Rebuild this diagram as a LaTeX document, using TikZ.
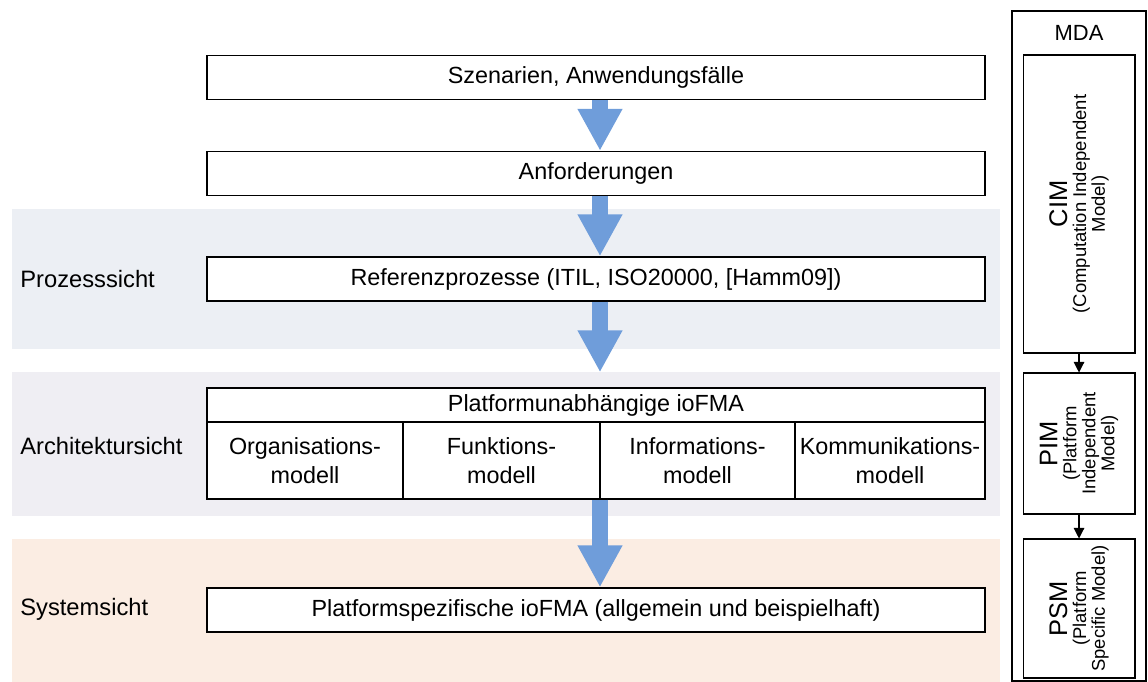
\documentclass[tikz,border=0pt]{standalone}
\usepackage{fontspec}
\setmainfont{Liberation Sans}
\usetikzlibrary{arrows.meta}
\definecolor{arrowblue}{RGB}{111,157,218}
\definecolor{prozessbg}{RGB}{236,239,244}
\definecolor{archbg}{RGB}{239,238,243}
\definecolor{systembg}{RGB}{251,237,227}
\tikzset{
	box/.style={draw, line width=0.8pt, fill=white, inner sep=0pt, minimum width=15.56cm, minimum height=0.88cm, font=\fontsize{13.3}{15.5}\selectfont},
	cell/.style={draw, line width=0.8pt, fill=white, inner sep=0pt, minimum height=1.54cm, align=center, font=\fontsize{13.3}{16.5}\selectfont},
	bigarrow/.style={line width=0.32cm, arrowblue, -{Triangle[width=0.84cm,length=0.84cm]}, transform canvas={xshift=0.08cm}},
	mdabox/.style={draw, line width=0.6pt, fill=white, minimum width=2.24cm, inner sep=0pt},
	mdatext/.style={rotate=90, align=center, font=\fontsize{10.5}{10.8}\selectfont},
	sicht/.style={anchor=west, inner sep=0pt, font=\fontsize{13.5}{15.5}\selectfont}
}

\begin{document}
\begin{tikzpicture}[x=0.02cm, y=-0.02cm]
			%%%%% START %%%%%
			\useasboundingbox (0, 0) rectangle (1148, 682);
			
			\fill[prozessbg] (12, 209) rectangle (1000, 349);
			\fill[archbg] (12, 372) rectangle (1000, 516);
			\fill[systembg] (12, 539) rectangle (1000, 682);
			
			\node[sicht] (prozess) at (20, 279) {Prozesssicht};
			\node[sicht] (arch) at (20, 446) {Architektursicht};
			\node[sicht] (system) at (20, 609) {Systemsicht};
			
			\node[box] (scen) at (596, 77.5) {Szenarien, Anwendungsfälle};
			\node[box] (anf) at (596, 173.5) {Anforderungen};
			\node[box] (ref) at (596, 279) {Referenzprozesse (ITIL, ISO20000, [Hamm09])};
			
			\node[box, minimum height=0.68cm] (plat) at (596, 405) {Platformunabhängige ioFMA};
			\node[cell, minimum width=3.92cm] (org) at (305, 460.5) {Organisations-\\modell};
			\node[cell, minimum width=3.94cm] (funk) at (501.5, 460.5) {Funktions-\\modell};
			\node[cell, minimum width=3.9cm] (info) at (697.5, 460.5) {Informations-\\modell};
			\node[cell, minimum width=3.8cm] (komm) at (890, 460.5) {Kommunikations-\\modell};
			
			\node[box] (spec) at (596, 610) {Platformspezifische ioFMA (allgemein und beispielhaft)};
			
			\draw[bigarrow] (scen.south) -- (anf.north);
			\draw[bigarrow] (anf.south) -- (ref.north);
			\draw[bigarrow, shorten >=0.3cm] (ref.south) -- (plat.north);
			\draw[bigarrow] (spec.north |- funk.south) -- (spec.north);
			
			% MDA
			\draw[line width=0.6pt] (1012, 11) rectangle (1146, 681);
			\node[font=\fontsize{12.5}{15}\selectfont] (mda) at (1079, 33) {MDA};
			
			\node[mdabox, minimum height=5.96cm] (cim) at (1079, 204) {};
			\node[mdabox, minimum height=2.82cm] (pim) at (1079, 443.5) {};
			\node[mdabox, minimum height=2.78cm] (psm) at (1079, 608.5) {};
			
			\node[mdatext] (cimtext) at (cim.center) {{\fontsize{14.5}{16}\selectfont CIM}\\(Computation Independent\\Model)};
			\node[mdatext] (pimtext) at (pim.center) {{\fontsize{14.5}{16}\selectfont PIM}\\(Platform\\Independent\\Model)};
			\node[mdatext] (psmtext) at (psm.center) {{\fontsize{14.5}{16}\selectfont PSM}\\(Platform\\Specific Model)};
			
			\draw[line width=0.6pt, -{Triangle[width=6pt,length=6pt]}] (cim.south) -- (pim.north);
			\draw[line width=0.6pt, -{Triangle[width=6pt,length=6pt]}] (pim.south) -- (psm.north);
			%%%%% END %%%%%
\end{tikzpicture}
\end{document}
